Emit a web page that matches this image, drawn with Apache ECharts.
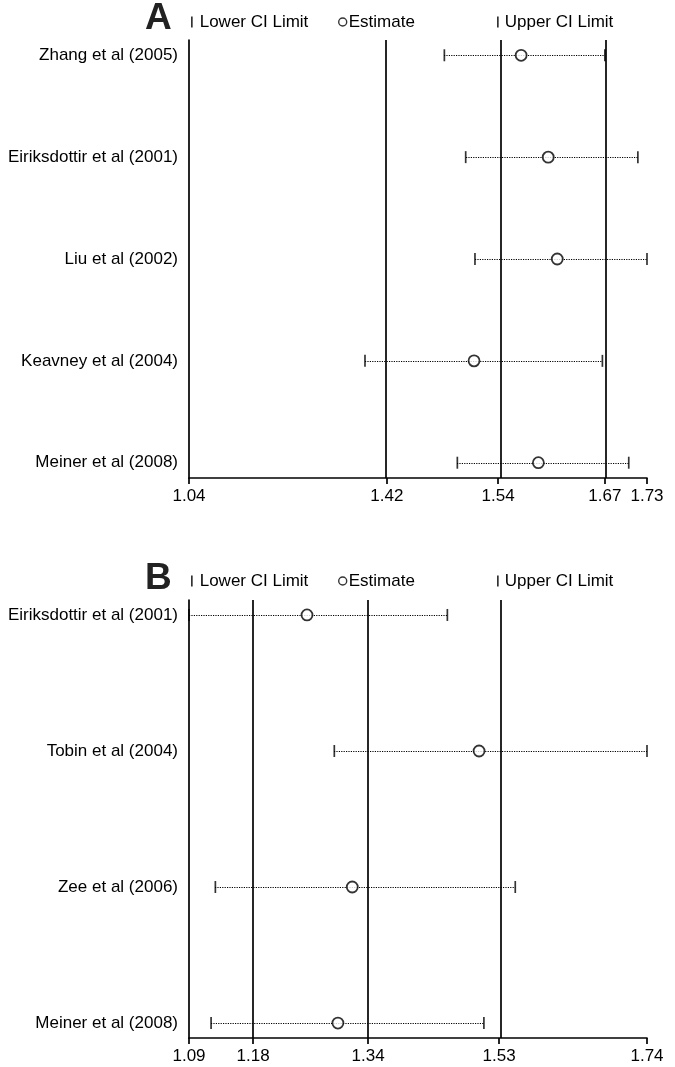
<!DOCTYPE html>
<html lang="en">
<head>
    <meta charset="UTF-8">
    <title>sensitivity analysis</title>
    <style>
        html, body { margin:0; padding:0; background:#fff; }
        #main { width:675px; height:1067px; }
    </style>
    <script src="https://cdn.jsdelivr.net/npm/echarts@6/dist/echarts.min.js"></script>
</head>
<body>
    <div id="main"></div>
    <script>
        // panel A
        var studiesA = ['Zhang et al (2005)', 'Eiriksdottir et al (2001)', 'Liu et al (2002)', 'Keavney et al (2004)', 'Meiner et al (2008)'];
        var lowerA = [1.482, 1.505, 1.515, 1.378, 1.496];
        var estA   = [1.568, 1.601, 1.612, 1.514, 1.589];
        var upperA = [1.670, 1.717, 1.730, 1.667, 1.704];
        var ticksA = [1.04, 1.42, 1.54, 1.67, 1.73];
        var refA   = [1.42, 1.54, 1.67];

        // panel B
        var studiesB = ['Eiriksdottir et al (2001)', 'Tobin et al (2004)', 'Zee et al (2006)', 'Meiner et al (2008)'];
        var lowerB = [1.090, 1.293, 1.127, 1.121];
        var estB   = [1.255, 1.501, 1.318, 1.298];
        var upperB = [1.455, 1.740, 1.553, 1.508];
        var ticksB = [1.09, 1.18, 1.34, 1.53, 1.74];
        var refB   = [1.18, 1.34, 1.53];

        // printed axis is not evenly spaced, so each tick sits at its own share of the axis
        var stopsA = [0, 0.432, 0.675, 0.908, 1];
        var stopsB = [0, 0.140, 0.391, 0.677, 1];

        function toAxis(v, ticks, stops) {
            for (var i = 0; i < ticks.length - 1; i++) {
                if (v <= ticks[i + 1] || i == ticks.length - 2) {
                    var t = (v - ticks[i]) / (ticks[i + 1] - ticks[i]);
                    return stops[i] + t * (stops[i + 1] - stops[i]);
                }
            }
        }
        function fromAxis(p, ticks, stops) {
            for (var i = 0; i < stops.length; i++) {
                if (Math.abs(stops[i] - p) < 1e-6) return ticks[i].toFixed(2);
            }
            return '';
        }

        var font = '"Liberation Sans", Arial, sans-serif';
        var fs = 17;

        function panelSeries(idx, lower, est, upper, ticks, stops, refs) {
            var ci = [], lo = [], hi = [], pt = [];
            for (var i = 0; i < est.length; i++) {
                ci.push([toAxis(lower[i], ticks, stops), toAxis(upper[i], ticks, stops), i]);
                lo.push([toAxis(lower[i], ticks, stops), i]);
                hi.push([toAxis(upper[i], ticks, stops), i]);
                pt.push([toAxis(est[i], ticks, stops), i]);
            }
            return [
                {
                    type: 'custom', name: 'CI', xAxisIndex: idx, yAxisIndex: idx,
                    data: ci, silent: true, z: 1,
                    renderItem: function (params, api) {
                        var a = api.coord([api.value(0), api.value(2)]);
                        var b = api.coord([api.value(1), api.value(2)]);
                        var y = Math.round(a[1]) + 0.5; // keep the dots crisp
                        return {
                            type: 'line',
                            shape: { x1: Math.round(a[0]), y1: y, x2: b[0], y2: y },
                            style: { stroke: '#000', lineWidth: 1, lineDash: [1.2, 1.2] }
                        };
                    }
                },
                {
                    type: 'scatter', name: 'Lower CI Limit', xAxisIndex: idx, yAxisIndex: idx,
                    data: lo, symbol: 'rect', symbolSize: [1.7, 12], z: 3, silent: true,
                    itemStyle: { color: '#000' }
                },
                {
                    type: 'scatter', name: 'Upper CI Limit', xAxisIndex: idx, yAxisIndex: idx,
                    data: hi, symbol: 'rect', symbolSize: [1.7, 12], z: 3, silent: true,
                    itemStyle: { color: '#000' }
                },
                {
                    type: 'scatter', name: 'Estimate', xAxisIndex: idx, yAxisIndex: idx,
                    data: pt, symbol: 'circle', symbolSize: 11, z: 4, silent: true,
                    itemStyle: { color: '#fff', borderColor: '#000', borderWidth: 1.8 },
                    markLine: {
                        silent: true, symbol: 'none', z: 2,
                        label: { show: false },
                        lineStyle: { color: '#000', width: 1.7, type: 'solid' },
                        data: refs.map(function (r) { return { xAxis: toAxis(r, ticks, stops) }; })
                    }
                }
            ];
        }

        function legends(top) {
            var base = {
                top: top, padding: 0, selectedMode: false, itemGap: 0
            };
            var txt = { fontSize: fs, color: '#000', fontFamily: font, lineHeight: 18 };
            return [
                Object.assign({ left: 191, data: ['Lower CI Limit'], icon: 'rect', itemWidth: 1.7, itemHeight: 11,
                    itemStyle: { color: '#000' }, textStyle: Object.assign({ padding: [0, 0, 0, 2] }, txt) }, base),
                Object.assign({ left: 338, data: ['Estimate'], icon: 'circle', itemWidth: 8, itemHeight: 8,
                    itemStyle: { color: '#fff', borderColor: '#000', borderWidth: 1.4 },
                    textStyle: Object.assign({ padding: [0, 0, 0, -3] }, txt) }, base),
                Object.assign({ left: 497, data: ['Upper CI Limit'], icon: 'rect', itemWidth: 1.7, itemHeight: 11,
                    itemStyle: { color: '#000' }, textStyle: Object.assign({ padding: [0, 0, 0, 1] }, txt) }, base)
            ];
        }

        function xAxis(idx, ticks, stops) {
            return {
                type: 'value', gridIndex: idx, min: 0, max: 1, position: 'bottom',
                splitLine: { show: false },
                axisLine: { show: true, onZero: false, lineStyle: { color: '#000', width: 1.7 } },
                axisTick: { show: true, customValues: stops, length: 6, lineStyle: { color: '#000', width: 1.7 } },
                axisLabel: {
                    customValues: stops, margin: 10, color: '#000', fontSize: fs, fontFamily: font,
                    formatter: function (v) { return fromAxis(v, ticks, stops); }
                }
            };
        }

        function yAxis(idx, names, lo, hi) {
            var rows = names.map(function (n, i) { return i; });
            return {
                type: 'value', gridIndex: idx, min: lo, max: hi, inverse: true,
                splitLine: { show: false },
                axisLine: { show: true, onZero: false, lineStyle: { color: '#000', width: 1.7 } },
                axisTick: { show: false },
                axisLabel: {
                    customValues: rows, margin: 11, color: '#000', fontSize: fs, fontFamily: font,
                    formatter: function (v) { return names[Math.round(v)]; }
                }
            };
        }

        var myChart = echarts.init(document.getElementById('main'));
        var option = {
            animation: false,
            backgroundColor: '#fff',
            title: [
                { text: 'A', left: 145, top: 0, padding: 0,
                  textStyle: { fontSize: 37, fontWeight: 'bold', color: '#222', fontFamily: font } },
                { text: 'B', left: 145, top: 560, padding: 0,
                  textStyle: { fontSize: 37, fontWeight: 'bold', color: '#222', fontFamily: font } }
            ],
            legend: legends(13).concat(legends(572)),
            grid: [
                { left: 189, width: 458, top: 40, height: 438 },
                { left: 189, width: 458, top: 600, height: 438 }
            ],
            xAxis: [xAxis(0, ticksA, stopsA), xAxis(1, ticksB, stopsB)],
            yAxis: [yAxis(0, studiesA, -0.15, 4.15), yAxis(1, studiesB, -0.11, 3.11)],
            series: panelSeries(0, lowerA, estA, upperA, ticksA, stopsA, refA)
                .concat(panelSeries(1, lowerB, estB, upperB, ticksB, stopsB, refB))
        };
        myChart.setOption(option);
    </script>
</body>
</html>
